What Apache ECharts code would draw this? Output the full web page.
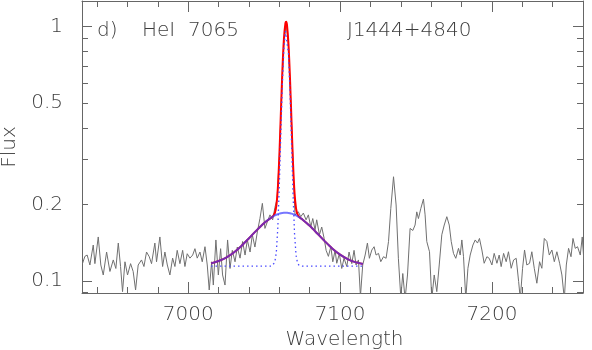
<!DOCTYPE html>
<html>
<head>
<meta charset="utf-8">
<script src="https://cdn.jsdelivr.net/npm/echarts@6/dist/echarts.min.js"></script>
<style>html,body{margin:0;padding:0;background:#fff}#c{width:592px;height:350px}</style>
</head>
<body>
<div id="c"></div>
<script>
// ---- observed spectrum (wavelength, flux) ----
var specWave = [6930.3,6931.9,6933.4,6935.2,6937.4,6938.5,6940.7,6942.4,6944.0,6946.2,6948.4,6950.6,6952.3,6953.9,6955.4,6956.7,6958.3,6960.0,6962.0,6963.7,6965.3,6967.0,6969.2,6970.8,6972.5,6974.3,6975.8,6978.0,6979.1,6981.3,6983.1,6984.6,6986.2,6987.9,6989.7,6991.2,6992.7,6994.5,6996.3,6997.8,6999.3,7001.1,7002.9,7004.4,7005.9,7007.7,7009.2,7011.0,7012.5,7013.8,7015.4,7016.5,7018.2,7019.8,7021.3,7022.6,7024.2,7025.9,7027.5,7029.0,7030.8,7032.3,7034.1,7035.8,7037.4,7038.9,7040.7,7042.2,7043.9,7045.5,7047.2,7048.8,7050.5,7052.1,7053.8,7055.6,7057.1,
7058.5,7060.0,7061.5,7063.0,7064.5,7066.0,7067.5,7069.0,
7070.3,7072.5,7074.1,7075.8,7077.6,7079.1,7080.7,7082.0,7083.5,7084.6,7086.4,7087.9,7089.5,7090.8,7092.3,7093.9,7095.2,7096.7,7097.8,7099.5,7101.1,7102.6,7104.4,7105.9,7107.7,7109.2,7110.5,7112.1,7113.4,
7114.9,7116.5,7118.0,7119.3,7120.9,7122.4,7123.7,7125.3,7126.8,7128.6,7130.3,7131.9,7133.4,7135.2,7136.9,7138.4,7140.0,7141.3,7142.8,7144.4,7146.1,7147.9,7149.4,7150.5,7151.6,7153.2,7154.9,7156.0,7157.1,7158.9,7160.4,7162.0,7163.7,7165.3,7167.0,7168.6,7170.3,7171.9,7173.2,7174.7,7176.2,7178.0,7179.1,7180.2,7181.3,7182.8,7184.2,7185.7,7187.5,7189.0,7190.5,7191.8,7193.4,7194.9,7196.7,7198.2,7200.0,7201.5,7203.3,7204.8,7206.1,7207.7,7209.4,7210.9,7212.7,7214.3,7216.0,7217.6,7218.7,7220.2,7221.5,7223.0,7224.8,7226.3,7227.9,7229.6,7231.4,7232.9,7234.5,7236.2,7237.8,7239.5,7241.1,7242.8,7244.6,7246.1,7247.7,7249.0,7250.5,7252.1,7253.4,7254.9,7256.4,7258.2,7259.5,7260.8,7262.6];
var specFlux = [0.117,0.125,0.1265,0.1156,0.1385,0.117,0.149,0.1156,0.1056,0.130,0.109,0.121,0.112,0.141,0.114,0.0908,0.119,0.1056,0.117,0.109,0.0922,0.1156,0.121,0.114,0.130,0.1246,0.117,0.141,0.119,0.149,0.114,0.130,0.1156,0.1056,0.123,0.114,0.132,0.117,0.132,0.114,0.128,0.123,0.1265,0.134,0.123,0.130,0.119,0.1364,0.1156,0.0922,0.119,0.0964,0.145,0.1056,0.134,0.1056,0.0964,0.145,0.112,0.132,0.119,0.136,0.123,0.143,0.1265,0.145,0.130,0.152,0.136,0.156,0.176,0.202,0.161,0.171,0.182,0.174,0.195,
0.21,0.31,0.55,0.88,1.03,0.84,0.51,0.29,
0.182,0.187,0.179,0.185,0.174,0.182,0.163,0.176,0.159,0.174,0.152,0.163,0.147,0.132,0.125,0.1364,0.119,0.132,0.1174,0.128,0.112,0.123,0.114,0.130,0.117,0.132,0.1156,0.121,0.087,
0.1156,0.1265,0.141,0.1228,0.1324,0.1364,0.1265,0.1284,0.1191,0.1246,0.1228,0.143,0.193,0.257,0.199,0.1228,0.086,0.107,0.085,0.1056,0.161,0.158,0.166,0.187,0.176,0.193,0.21,0.182,0.143,0.1303,0.085,0.1056,0.0908,0.1156,0.152,0.166,0.179,0.166,0.143,0.1284,0.1228,0.1344,0.1265,0.145,0.1246,0.085,0.1122,0.1265,0.1385,0.145,0.141,0.147,0.1324,0.1174,0.1246,0.1228,0.1156,0.1284,0.1174,0.1265,0.1139,0.1284,0.1191,0.1303,0.1122,0.121,0.1228,0.0995,0.085,0.1122,0.1324,0.1156,0.1174,0.1303,0.1122,0.098,0.1191,0.1122,0.147,0.143,0.1265,0.1324,0.1191,0.1303,0.1174,0.1056,0.085,0.1156,0.1344,0.1246,0.147,0.1344,0.1364,0.1265,0.149,0.1156,0.1324];

// ---- fitted model curves ----
var modelWave = [7015,7020,7025,7030,7035,7040,7045,7050,7055,7056,7057,7058,7059,7060,7061,7062,7063,7064,7064.5,7065,7066,7067,7068,7069,7070,7071,7072,7073,7074,7075,7080,7085,7090,7095,7100,7105,7110,7115];
var totalFlux = [0.1173,0.1198,0.1237,0.1295,0.1374,0.1473,0.1582,0.1691,0.1782,0.1805,0.1849,0.1973,0.2315,0.3110,0.4586,0.6721,0.8934,1.0325,1.0455,1.0184,0.8531,0.6256,0.4230,0.2896,0.2211,0.1926,0.1826,0.1788,0.1766,0.1749,0.1648,0.1538,0.1432,0.1340,0.1270,0.1220,0.1186,0.1166];
var broadFlux = [0.1173,0.1198,0.1237,0.1295,0.1374,0.1473,0.1582,0.1691,0.1782,0.1797,0.1810,0.1822,0.1832,0.1840,0.1846,0.1851,0.1854,0.1855,0.1855,0.1854,0.1851,0.1846,0.1840,0.1832,0.1822,0.1810,0.1797,0.1782,0.1766,0.1749,0.1648,0.1538,0.1432,0.1340,0.1270,0.1220,0.1186,0.1166];
var narrowFlux = [0.1145,0.1145,0.1145,0.1145,0.1145,0.1145,0.1145,0.1145,0.1145,0.1153,0.1184,0.1296,0.1628,0.2415,0.3885,0.6015,0.8225,0.9615,0.9745,0.9445,0.7825,0.5555,0.3535,0.2209,0.1534,0.1261,0.1174,0.1151,0.1145,0.1145,0.1145,0.1145,0.1145,0.1145,0.1145,0.1145,0.1145,0.1145];

// ---- ticks / labels ----
var xLabels = [7000, 7100, 7200];
var xMinorTicks = [6940,6960,6980,7000,7020,7040,7060,7080,7100,7120,7140,7160,7180,7200,7220,7240,7260];
var yLabels = [0.1, 0.2, 0.5, 1];
var yMinorTicks = [0.09,0.1,0.2,0.3,0.4,0.5,0.6,0.7,0.8,0.9,1.0];
var yMajorTicks = [0.1, 1];

var xMin = 6930, xMax = 7260, yMin = 0.0897, yMax = 1.262;
var axisColor = '#666';
var textColor = '#3c3c3c';
var font = 'DejaVu Sans';
var fw = 200;

function pairs(xs, ys){ return xs.map(function(x,i){ return [x, ys[i]]; }); }

function xAx(pos, ticks, len, labels, line, name){
  var a = {type:'value', position:pos, min:xMin, max:xMax, splitLine:{show:false},
    axisLine:{show:line, onZero:false, lineStyle:{color:axisColor, width:1}},
    axisTick:{show:true, inside:true, length:len, customValues:ticks, lineStyle:{color:axisColor, width:1}},
    axisLabel:{show:!!labels, customValues:labels||undefined, margin:12, color:textColor, fontFamily:font, fontWeight:fw, fontSize:20,
      formatter:function(v){ return String(v); }}};
  if (name){ a.name = name; a.nameLocation='middle'; a.nameGap=36;
    a.nameTextStyle={color:textColor, fontFamily:font, fontWeight:fw, fontSize:20, padding:[0,0,0,24]}; }
  return a;
}
function yAx(pos, ticks, len, labels, line, name){
  var a = {type:'log', logBase:10, position:pos, min:yMin, max:yMax, splitLine:{show:false},
    axisLine:{show:line, onZero:false, lineStyle:{color:axisColor, width:1}},
    axisTick:{show:true, inside:true, length:len, customValues:ticks, lineStyle:{color:axisColor, width:1}},
    axisLabel:{show:!!labels, customValues:labels||undefined, margin:19, color:textColor, fontFamily:font, fontWeight:fw, fontSize:20,
      formatter:function(v){ return String(v); }}};
  if (name){ a.name = name; a.nameLocation='middle'; a.nameGap=61; a.nameRotate=90;
    a.nameTextStyle={color:textColor, fontFamily:font, fontWeight:fw, fontSize:20}; }
  return a;
}

var ts = {color:textColor, fontFamily:font, fontSize:20, fontWeight:fw};
var chart = echarts.init(document.getElementById('c'), null, {renderer:'canvas'});
chart.setOption({
  animation:false,
  backgroundColor:'#fff',
  grid:{left:82, right:9, top:1, bottom:57, containLabel:false, outerBoundsMode:'none'},
  title:[
    {text:'d)', left:97, top:21, padding:0, textStyle:ts},
    {text:'HeI', left:142, top:21, padding:0, textStyle:ts},
    {text:'7065', left:188, top:21, padding:0, textStyle:ts},
    {text:'J1444+4840', left:347, top:21, padding:0, textStyle:ts}
  ],
  xAxis:[
    xAx('bottom', xMinorTicks, 6, xLabels, true, 'Wavelength'),
    xAx('bottom', xLabels, 11, null, false),
    xAx('top', xMinorTicks, 6, null, true),
    xAx('top', xLabels, 11, null, false)
  ],
  yAxis:[
    yAx('left', yMinorTicks, 6, yLabels, true, 'Flux'),
    yAx('left', yMajorTicks, 10, null, false),
    yAx('right', yMinorTicks, 6, null, true),
    yAx('right', yMajorTicks, 10, null, false)
  ],
  series:[
    {type:'line', data:pairs(specWave, specFlux), showSymbol:false, symbol:'none',
     lineStyle:{color:'#707070', width:1}, z:2},
    {type:'line', data:pairs(modelWave, totalFlux), showSymbol:false, symbol:'none', smooth:0.3,
     lineStyle:{color:'#ff0000', width:2}, z:3},
    {type:'line', data:pairs(modelWave, broadFlux), showSymbol:false, symbol:'none', smooth:0.3,
     lineStyle:{color:'#3c3cff', width:2, opacity:0.7}, z:4},
    {type:'line', data:pairs(modelWave, narrowFlux), showSymbol:false, symbol:'none',
     lineStyle:{color:'#4a4aff', width:1.3, type:[1.5,3]}, z:5}
  ]
});
</script>
</body>
</html>
